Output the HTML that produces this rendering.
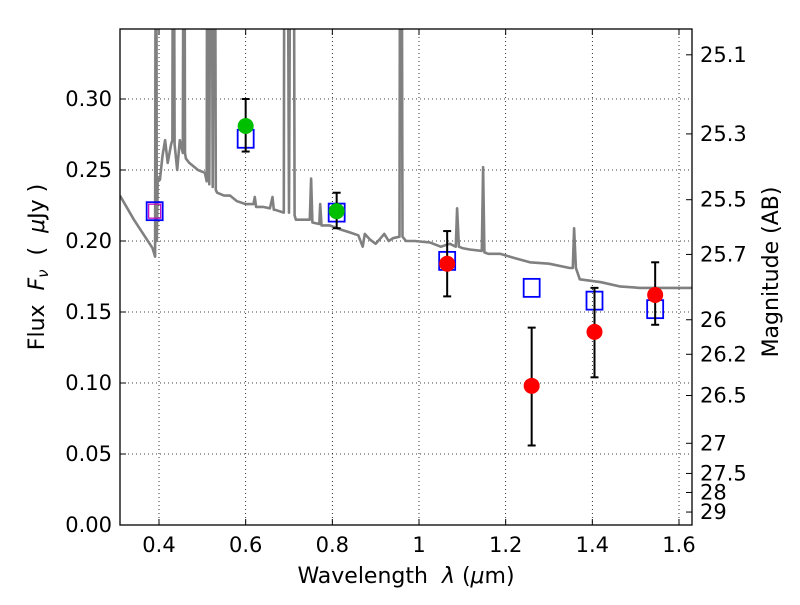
<!DOCTYPE html>
<html><head><meta charset="utf-8"><style>
body{margin:0;background:#fff}
svg text{font-family:"DejaVu Sans","Liberation Sans",sans-serif;fill:#000}
</style></head><body>
<svg id="chart" width="800" height="600" viewBox="0 0 800 600" xmlns="http://www.w3.org/2000/svg">
<defs><clipPath id="clip"><rect x="120" y="29" width="572" height="496"/></clipPath></defs>
<rect x="0" y="0" width="800" height="600" fill="#fff"/>
<g id="grid"></g>
<g id="spec" clip-path="url(#clip)"></g>
<g id="marks"></g>
<rect x="120" y="29" width="572" height="496" fill="none" stroke="#000" stroke-width="1.3"/>
<g id="axes"></g>
<text x="406" y="583" font-size="22" text-anchor="middle" xml:space="preserve">Wavelength  <tspan font-style="italic">λ</tspan> (<tspan font-style="italic">μ</tspan>m)</text>
<text transform="translate(44,267) rotate(-90)" font-size="22" text-anchor="middle" xml:space="preserve">Flux  <tspan font-style="italic">F</tspan><tspan font-style="italic" font-size="15" dy="4">ν</tspan><tspan dy="-4">  (  </tspan><tspan font-style="italic">μ</tspan>Jy )</text>
<text transform="translate(778,272) rotate(-90)" font-size="22" text-anchor="middle">Magnitude (AB)</text>
</svg>
<script>
const xTicks=[0.4,0.6,0.8,1.0,1.2,1.4,1.6];
const xTickLabels=["0.4","0.6","0.8","1","1.2","1.4","1.6"];
const yTicks=[0,0.05,0.10,0.15,0.20,0.25,0.30];
const yTickLabels=["0.00","0.05","0.10","0.15","0.20","0.25","0.30"];
const magTicks=[25.1,25.3,25.5,25.7,26,26.2,26.5,27,27.5,28,29];
const magTickLabels=["25.1","25.3","25.5","25.7","26","26.2","26.5","27","27.5","28","29"];
const specWave=[0.31,0.342,0.385,0.391,0.393,0.395,0.397,0.402,0.408,0.414,0.42,0.428,0.431,0.433,0.436,0.442,0.448,0.455,0.458,0.460,0.462,0.47,0.49,0.506,0.510,0.512,0.516,0.520,0.524,0.528,0.531,0.534,0.55,0.564,0.58,0.6,0.618,0.621,0.624,0.64,0.656,0.662,0.665,0.668,0.688,0.690,0.695,0.700,0.705,0.710,0.713,0.716,0.73,0.748,0.751,0.754,0.77,0.772,0.775,0.794,0.82,0.841,0.86,0.87,0.875,0.887,0.9,0.92,0.93,0.94,0.955,0.957,0.959,0.962,0.97,0.99,1.025,1.05,1.071,1.085,1.088,1.092,1.1,1.117,1.145,1.148,1.151,1.16,1.187,1.22,1.256,1.3,1.348,1.355,1.358,1.362,1.371,1.42,1.463,1.51,1.556,1.63];
const specFlux=[0.232,0.215,0.195,0.189,0.6,0.2,0.245,0.243,0.26,0.271,0.255,0.268,0.271,0.6,0.268,0.25,0.271,0.262,0.6,0.262,0.258,0.255,0.25,0.248,0.242,0.6,0.24,0.6,0.238,0.6,0.236,0.234,0.232,0.232,0.228,0.226,0.226,0.231,0.224,0.224,0.223,0.231,0.222,0.222,0.22,0.6,0.6,0.22,0.6,0.6,0.218,0.215,0.215,0.215,0.244,0.213,0.212,0.226,0.211,0.211,0.208,0.206,0.204,0.196,0.205,0.201,0.198,0.205,0.2,0.202,0.203,0.6,0.6,0.203,0.2,0.2,0.199,0.196,0.198,0.196,0.223,0.196,0.195,0.194,0.193,0.252,0.192,0.191,0.191,0.188,0.185,0.184,0.181,0.181,0.209,0.181,0.173,0.171,0.168,0.167,0.167,0.167];
const sqWave=[0.39,0.60,0.81,1.065,1.26,1.405,1.545];
const sqFlux=[0.221,0.272,0.220,0.186,0.167,0.158,0.152];
const greenWave=[0.60,0.81];
const greenFlux=[0.281,0.221];
const greenLo=[0.263,0.209];
const greenHi=[0.300,0.234];
const redWave=[1.065,1.26,1.405,1.545];
const redFlux=[0.184,0.098,0.136,0.162];
const redLo=[0.161,0.056,0.104,0.141];
const redHi=[0.207,0.139,0.167,0.185];

const NS="http://www.w3.org/2000/svg";
const X0=120,X1=692,Y0=525,Y1=29,XMIN=0.31,XMAX=1.63,YMIN=0,YMAX=0.3493;
const sx=v=>X0+(v-XMIN)/(XMAX-XMIN)*(X1-X0);
const sy=v=>Y0-(v-YMIN)/(YMAX-YMIN)*(Y0-Y1);
const magToFlux=m=>Math.pow(10,(23.9-m)/2.5);
function mk(tag,attrs,parent){const e=document.createElementNS(NS,tag);for(const k in attrs)e.setAttribute(k,attrs[k]);parent.appendChild(e);return e;}
const grid=document.getElementById('grid'),axes=document.getElementById('axes'),spec=document.getElementById('spec'),marks=document.getElementById('marks');
xTicks.forEach((t,i)=>{const x=sx(t);
 const g=mk('line',{x1:x,x2:x,y1:Y1,y2:Y0,stroke:'#000','stroke-width':0.8,'stroke-dasharray':'1,3'},grid);
 
 
 mk('line',{x1:x,x2:x,y1:Y0,y2:Y0-6,stroke:'#000'},axes);
 mk('line',{x1:x,x2:x,y1:Y1,y2:Y1+6,stroke:'#000'},axes);
 const tx=mk('text',{x:x,y:Y0+27,'font-size':21,'text-anchor':'middle'},axes);tx.textContent=xTickLabels[i];
 
 
});
yTicks.forEach((t,i)=>{const y=sy(t);
 const g=mk('line',{x1:X0,x2:X1,y1:y,y2:y,stroke:'#000','stroke-width':0.8,'stroke-dasharray':'1,3'},grid);
 
 
 mk('line',{x1:X0,x2:X0+6,y1:y,y2:y,stroke:'#000'},axes);
 const tx=mk('text',{x:X0-8,y:y+7,'font-size':21,'text-anchor':'end'},axes);tx.textContent=yTickLabels[i];
 
 
});
magTicks.forEach((m,i)=>{const y=sy(magToFlux(m));
 mk('line',{x1:X1-6,x2:X1,y1:y,y2:y,stroke:'#000'},axes);
 const tx=mk('text',{x:X1+8,y:y+7,'font-size':21},axes);tx.textContent=magTickLabels[i];
 
 
});
const pts=specWave.map((w,i)=>sx(w).toFixed(1)+','+sy(specFlux[i]).toFixed(1)).join(' ');
const pl=mk('polyline',{points:pts,fill:'none',stroke:'#808080','stroke-width':2.6,'stroke-linejoin':'round'},spec);


sqWave.forEach((w,i)=>{const r=mk('rect',{x:sx(w)-8,y:sy(sqFlux[i])-9,width:16,height:18,fill:'none',stroke:'#0000ff','stroke-width':1.8},marks);
 
 });
const mg=mk('rect',{x:sx(sqWave[0])-6,y:sy(sqFlux[0])-7,width:12,height:14,fill:'none',stroke:'#bf00bf','stroke-width':1.2},marks);


function errbar(w,lo,hi){const x=sx(w);
 mk('line',{x1:x,x2:x,y1:sy(lo),y2:sy(hi),stroke:'#000','stroke-width':2},marks);
 mk('line',{x1:x-4,x2:x+4,y1:sy(lo),y2:sy(lo),stroke:'#000','stroke-width':2},marks);
 mk('line',{x1:x-4,x2:x+4,y1:sy(hi),y2:sy(hi),stroke:'#000','stroke-width':2},marks);}
greenWave.forEach((w,i)=>{errbar(w,greenLo[i],greenHi[i]);
 const c=mk('circle',{cx:sx(w),cy:sy(greenFlux[i]),r:8,fill:'#00bf00'},marks);
 
 });
redWave.forEach((w,i)=>{errbar(w,redLo[i],redHi[i]);
 const c=mk('circle',{cx:sx(w),cy:sy(redFlux[i]),r:8,fill:'#ff0000'},marks);
 
 });
</script>
</body></html>
